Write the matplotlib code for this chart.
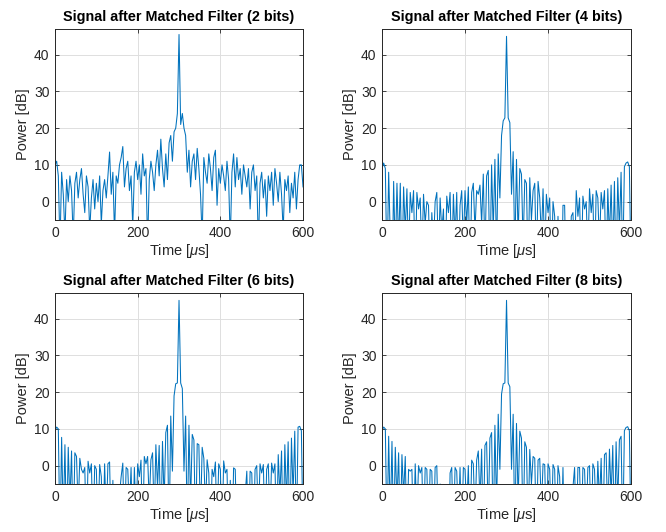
import numpy as np
import matplotlib
matplotlib.use("Agg")
import matplotlib.pyplot as plt

# Matched filter output, power in dB
time_us = np.arange(0, 601, 4)

bits = [2, 4, 6, 8]

power_2bit = [
    10, 11, 7, -12, 8, 2, -9, 6, 0, 7,
    3, -10, 5, 8, 1, 6, 9, 2, -3, 7,
    4, -8, 1, 6, -2, 5, 0, 7, -6, 3,
    6, 1, 7, 13.5, 2, 8, -9, 7, 5, 10,
    12, 15, 4, 9, 11, 3, 7, -7, 8, 11,
    6, 10, 2, 13, 7, 9, -12, 6, 11, 8,
    3, 10, 14, 7, 17, 9, 4, 13, 6, 16,
    18, 11, 19, 20, 24, 45.5, 21, 24, 20, 18,
    8, 14, 4, 11, 13, 6, 14.5, 9, 2, -10,
    12, 8, 5, 13, 9, 3, 12, 14, -1, 9,
    5, 10, 7, 3, 11, 6, -11, 8, 13, 4,
    12, 6, 9, 2, 10, 7, 4, 9, -2, 8,
    10, 3, 7, -12, 5, 8, 1, 6, -4, 7,
    3, 8, -1, 9, 5, 0, 8, 2, -8, 6,
    3, 7, -3, 5, 1, 8, -2, 6, 10, 10,
    4,
]

power_4bit = [
    9, 10.5, 9, -20, 8, -10, -25, 5.5, -15, 5,
    -12, 5, -20, 4, -8, 3.5, -15, 2.5, -3, 3,
    -20, 2.5, -2, 1, -15, 2, -6, 0, -1, -20,
    -3, -12, 0, 2.5, -15, 1, -8, -2, -20, 1.5,
    -3, 2.5, -18, 2, -10, 2.5, -20, -1, 3, -12,
    3, -6, 4, -20, 2.5, 5, -8, 3, 2, 4.5,
    -6, 7.5, -15, 7, 8.5, -20, 10, -8, 11.5, -15,
    13, 1, 18, 22, 22.8, 45, 22.8, 21.5, 2, 13.6,
    -15, 11.5, -10, 9, 7.5, -12, 6, 5, -20, 6.5,
    -5, 3, 5, -18, 5.5, 1, -10, 3.5, -15, 2,
    -3, 1, -20, 0, -4, -25, -4, -20, -30, -1,
    -1, -25, -30, -20, -4, -3, -15, 3, -4, 1,
    -20, 1.5, -2, 0, -15, 3.5, -3, 2, -20, 3,
    1, -12, 2.5, -2, 3, -20, 3.5, -10, 4.5, -15,
    5.5, -20, 6.5, -8, 8, -18, 9.5, 10.5, 10.8, 9.5,
    -20,
]

power_6bit = [
    9.5, 10.5, 10, -20, 7.7, -15, 5.7, -20, 5, -10,
    4, -20, 3.5, 2.5, -12, 2, -1, -2, -0.5, -20,
    1.2, -2, 0.5, -20, 0, -1, -18, 0.3, -3, -20,
    0.5, -15, 0.5, 1, -20, -4, -30, -6, -25, -8,
    -3, 0.7, -20, -0.5, -1, -12, -0.5, -20, -0.5, -15,
    0.5, -3, 1.5, -20, 2.5, 0.5, 2.5, -10, 1.6, 3.5,
    -15, 5.7, -6, 5.5, -20, 6.6, -10, 9, 11, -20,
    13.5, -1.5, 19, 22.3, 22.5, 45, 22.5, 21, -1.5, 13.5,
    -20, 11, -10, 8.5, 7, -20, 6, 5.7, -15, 5,
    2, -12, 1.6, -2, -20, -1, -3, 1, -18, 0.5,
    -1, -20, 1.3, -2, -1, -20, -4, -25, -0.6, -1,
    -20, -7, -30, -8, -25, -8, -1.5, -20, -1.5, -2,
    -20, -1, 0, -15, 0.5, -2, 0.3, -20, -1, 0.5,
    -15, 0.7, -2, 0.5, -20, 3, -8, 4, -20, 5.7,
    -10, 6.5, -20, 7.5, -8, 9.4, -20, 10.5, 10.7, 9.5,
    -20,
]

power_8bit = [
    9.5, 10.5, 10, -20, 8, -15, 6.6, -20, 5, -10,
    3.5, -20, 3, -8, 2.5, -20, -1, -1.5, -1, -20,
    0.5, -15, 0, -2, -0.5, -20, -0.5, -1, -18, -1,
    -1.5, -20, -0.5, 0, -20, -5, -30, -7, -25, -6,
    -30, -2, -0.5, -20, -0.5, -1.5, -15, -0.5, -20, -0.5,
    -1, -12, 0, -20, 1.5, 0.5, -15, 1.5, 4, -10,
    4.5, -20, 5.5, 6.5, -15, 7.5, 9, -20, 11, -12,
    14, -1, 19.5, 22.3, 22.5, 45, 22.5, 21.5, -1, 14,
    -20, 11.5, -10, 9.4, 7.5, -20, 6.5, 5, -18, 4.4,
    -5, 2.5, 2, -20, 1.5, 2, -12, 0.5, 0.3, -20,
    0.5, -1, -18, 0.3, -1, -20, 0, -3, -20, -0.5,
    -25, -7, -30, -8, -25, -6, -0.5, -20, -0.5, -0.5,
    -20, -0.5, -1, -15, -0.5, 0, -20, 0.5, -1, -15,
    1.2, -10, 2, -20, 3, 3.5, -15, 4.5, -8, 5.5,
    -20, 6.5, -10, 7, 8, -20, 9.5, 10.4, 10.6, 9.5,
    -20,
]

series = [power_2bit, power_4bit, power_6bit, power_8bit]

plt.rcParams['font.family'] = ['Liberation Sans', 'DejaVu Sans']
plt.rcParams['mathtext.fontset'] = 'custom'
plt.rcParams['mathtext.rm'] = 'Liberation Sans'
plt.rcParams['mathtext.it'] = 'Liberation Sans:italic'

fig = plt.figure(figsize=(6.66, 5.32), dpi=100)

# axes boxes in figure fractions (left, bottom, width, height)
boxes = [
    (0.0826, 0.5865, 0.3724, 0.359),
    (0.5736, 0.5865, 0.3739, 0.359),
    (0.0826, 0.0902, 0.3724, 0.359),
    (0.5736, 0.0902, 0.3739, 0.359),
]

axcol = '#262626'
for box, b, p in zip(boxes, bits, series):
    ax = fig.add_axes(box)
    ax.plot(time_us, p, color='#0072BD', lw=0.75)
    ax.set_xlim(0, 600)
    ax.set_ylim(-5, 47)
    ax.set_xticks([0, 200, 400, 600])
    ax.set_yticks([0, 10, 20, 30, 40])
    ax.grid(True, color='#dedede', lw=0.7)
    ax.set_axisbelow(True)
    ax.tick_params(direction='in', length=3, width=0.6, top=True, right=True,
                   labelsize=10, colors=axcol, pad=4)
    for s in ax.spines.values():
        s.set_color(axcol)
        s.set_linewidth(0.7)
    ax.set_title(f'Signal after Matched Filter ({b} bits)', fontsize=10.4,
                 fontweight='bold', pad=6)
    ax.set_xlabel(r'Time [$\mu$s]', fontsize=10.5, color=axcol, labelpad=2)
    ax.set_ylabel('Power [dB]', fontsize=10.5, color=axcol, labelpad=3)

fig.savefig('out.png', dpi=100)
